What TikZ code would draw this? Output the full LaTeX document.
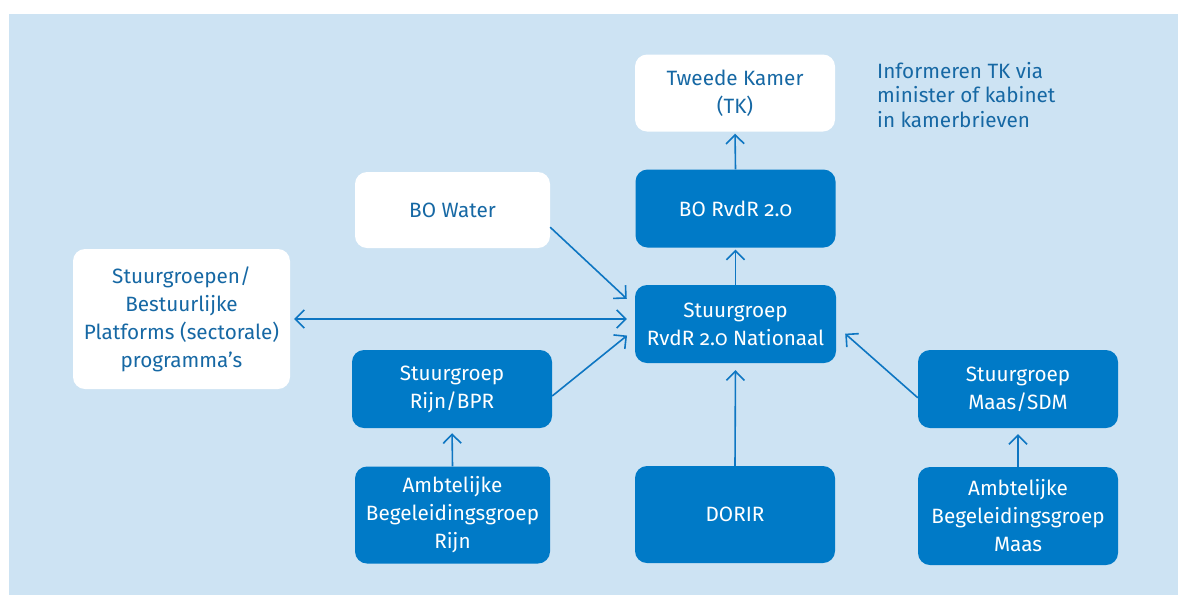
\documentclass[tikz,border=0pt]{standalone}
\usepackage{fontspec}
\setmainfont[Numbers=OldStyle]{Fira Sans}
\usepackage{xcolor}
\usetikzlibrary{arrows.meta}
\definecolor{bgblue}{RGB}{205,227,243}
\definecolor{boxblue}{RGB}{0,122,199}
\definecolor{txtblue}{RGB}{22,104,164}
\definecolor{lineblue}{RGB}{14,118,194}

\begin{document}
\begin{tikzpicture}[x=1pt, y=-1pt,
    box/.style={rounded corners=12pt, align=center, inner sep=0pt,
      font=\fontsize{20.7}{28}\selectfont},
    bluebox/.style={box, fill=boxblue, text=white},
    whitebox/.style={box, fill=white, text=txtblue},
    barb/.tip={Straight Barb[length=9pt, width=18pt]},
    arr/.style={draw=lineblue, line width=1.6pt, -barb}]
      \useasboundingbox (0, 0) rectangle (1178, 595);
      \fill[bgblue] (9, 14) rectangle (1178, 595);
      \node[whitebox, minimum width=200pt, minimum height=77pt] (tk) at (735, 93) {Tweede Kamer\\(TK)};
      \node[bluebox, minimum width=200pt, minimum height=78pt] (borvdr) at (735.5, 208.5) {BO RvdR 2.0};
      \node[bluebox, minimum width=201pt, minimum height=78pt] (nat) at (735.5, 324) {Stuurgroep\\RvdR 2.0 Nationaal};
      \node[whitebox, minimum width=195pt, minimum height=76pt] (bowater) at (452.5, 210) {BO Water};
      \node[whitebox, minimum width=217pt, minimum height=140pt] (sgp) at (181.5, 319) {Stuurgroepen/\\Bestuurlijke\\Platforms (sectorale)\\programma's};
      \node[bluebox, minimum width=200pt, minimum height=78pt] (rijn) at (452, 389) {Stuurgroep\\Rijn/BPR};
      \node[bluebox, minimum width=195pt, minimum height=97pt] (abrijn) at (452.5, 515) {Ambtelijke\\Begeleidingsgroep\\Rijn};
      \node[bluebox, minimum width=200pt, minimum height=97pt] (dorir) at (735, 514.5) {DORIR};
      \node[bluebox, minimum width=200pt, minimum height=78pt] (maas) at (1018, 389) {Stuurgroep\\Maas/SDM};
      \node[bluebox, minimum width=200pt, minimum height=98pt] (abmaas) at (1018, 516) {Ambtelijke\\Begeleidingsgroep\\Maas};
      \node[anchor=north west, align=left, inner sep=0pt, text=txtblue,
        font=\fontsize{20.7}{24.5}\selectfont] (info) at (877, 62) {Informeren TK via\\minister of kabinet\\in kamerbrieven};
      \draw[arr, shorten >=2pt] (borvdr.north) -- (tk.south);
      \draw[arr, shorten >=2pt] (nat.north) -- (borvdr.south);
      \draw[arr, shorten >=7pt] (dorir.north) -- (nat.south);
      \draw[arr, shorten >=5pt] (abrijn.north) -- (rijn.south);
      \draw[arr, shorten >=6pt] (abmaas.north) -- (maas.south);
      \draw[arr, shorten >=11pt] (bowater.-10.5) -- (nat.170.7);
      \draw[arr, shorten >=10pt] (rijn.-4) -- (nat.-177.5);
      \draw[arr, shorten >=12pt] (maas.-175) -- (nat.-1.1);
      \draw[arr, barb-barb, shorten <=4pt, shorten >=8pt] (sgp.east) -- (sgp.east -| nat.west);
    \end{tikzpicture}
\end{document}
